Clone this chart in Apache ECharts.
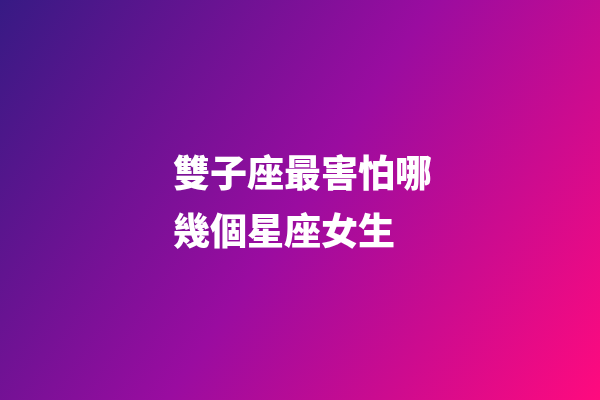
<!DOCTYPE html>
<html>
<head>
<meta charset="utf-8">
<script src="https://cdn.jsdelivr.net/npm/echarts@6/dist/echarts.min.js"></script>
<style>
  html, body { margin: 0; padding: 0; }
  #main { width: 600px; height: 400px; }
</style>
</head>
<body>
<div id="main"></div>
<script>
const titleLines = ["雙子座最害怕哪", "幾個星座女生"];
const gradientStops = ["#371a84", "#9a0ca0", "#ff0a7e"];

const chart = echarts.init(document.getElementById("main"));

const option = {
  graphic: [
    {
      type: "rect",
      left: 0,
      top: 0,
      shape: { width: 600, height: 400 },
      style: {
        fill: new echarts.graphic.LinearGradient(0, 0, 1, 1, [
          { offset: 0, color: gradientStops[0] },
          { offset: 0.5, color: gradientStops[1] },
          { offset: 1, color: gradientStops[2] },
        ]),
      },
      silent: true,
    },
    ...titleLines.map((line, i) => ({
      type: "text",
      left: 173,
      top: 154 + i * 58,
      style: {
        text: line,
        fill: "#ffffff",
        font: '900 37px "Noto Sans CJK TC", "Noto Sans CJK SC", sans-serif',
      },
    })),
  ],
};
chart.setOption(option);
</script>
</body>
</html>
